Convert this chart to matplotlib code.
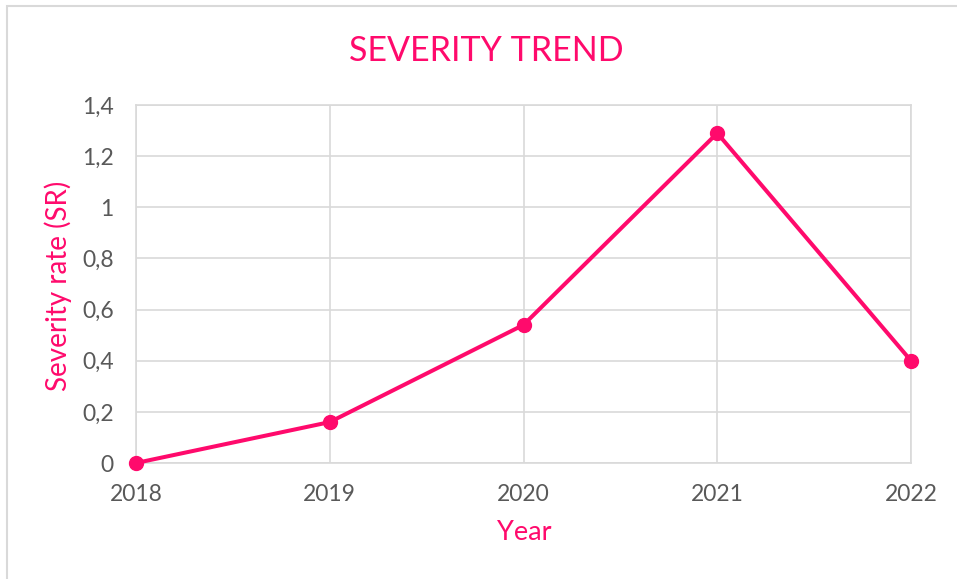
import matplotlib
matplotlib.use("Agg")
import matplotlib.pyplot as plt
from matplotlib.ticker import FuncFormatter
from matplotlib.patches import Rectangle

years = [2018, 2019, 2020, 2021, 2022]
severity = [0.0, 0.16, 0.54, 1.29, 0.40]
y_ticks = [0, 0.2, 0.4, 0.6, 0.8, 1.0, 1.2, 1.4]

PINK = "#FF0A6C"
GRAY = "#595959"
GRID = "#D9D9D9"
FONT = "Lato"

plt.rcParams['font.family'] = [FONT, 'DejaVu Sans']

fig = plt.figure(figsize=(9.57, 5.79), dpi=100)
fig.patch.set_facecolor("white")
# outer chart border
fig.patches.append(Rectangle((7/957, -0.1), 1.2, 1 - 5.5/579 + 0.1, transform=fig.transFigure,
                             fill=False, edgecolor="#D9D9D9", linewidth=1.5))

ax = fig.add_axes([136/957, 1 - 463/579, (911 - 136)/957, (463 - 105)/579])
ax.plot(years, severity, color=PINK, linewidth=2.9, marker="o", markersize=10,
        clip_on=False, zorder=3)

ax.set_xlim(2018, 2022)
ax.set_ylim(0, 1.4)
ax.set_xticks(years)
ax.set_yticks(y_ticks)

def fmt(v, pos):
    s = f"{v:.1f}".rstrip("0").rstrip(".")
    return s.replace(".", ",")
ax.yaxis.set_major_formatter(FuncFormatter(fmt))

ax.grid(True, color=GRID, linewidth=1.2)
ax.set_axisbelow(True)
for sp in ax.spines.values():
    sp.set_color(GRID)
    sp.set_linewidth(1.2)
ax.tick_params(axis="both", length=0, labelsize=16.5, labelcolor=GRAY)
ax.tick_params(axis="x", pad=15)
ax.tick_params(axis="y", pad=16)

fig.text(486/957, 1 - 51/579, "SEVERITY TREND", color=PINK, fontsize=24.5,
         ha="center", va="center")
fig.text(524/957, 1 - 533/579, "Year", color=PINK, fontsize=19.5, ha="center", va="center")
fig.text(58/957, 1 - 286/579, "Severity rate (SR)", color=PINK, fontsize=20,
         ha="center", va="center", rotation=90)

fig.savefig("out.png", dpi=100, facecolor="white")
